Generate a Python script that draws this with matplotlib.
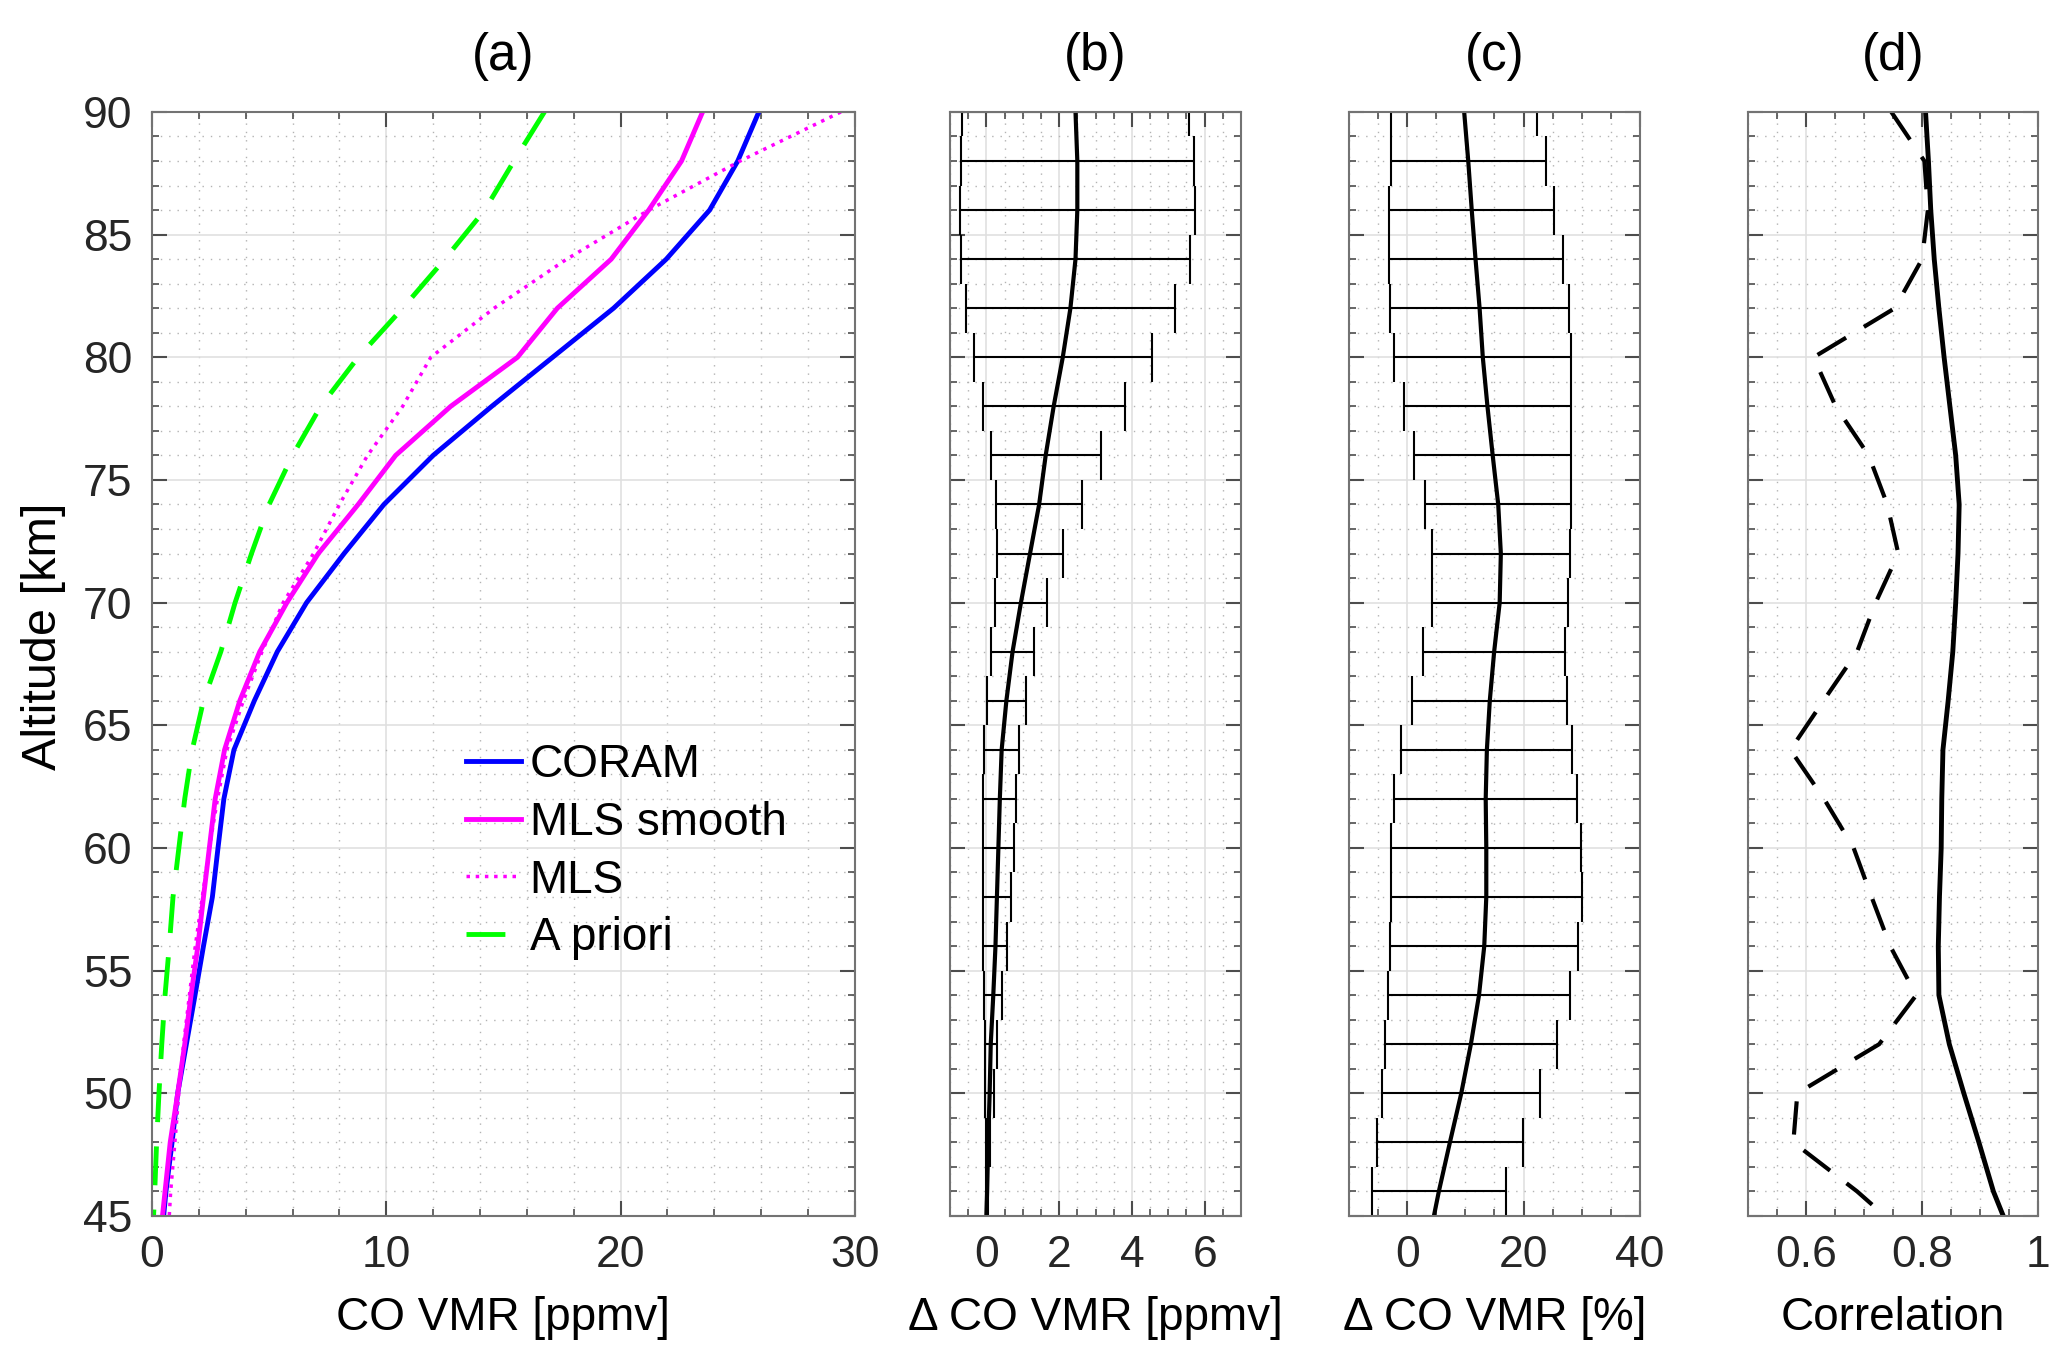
import numpy as np
import matplotlib
matplotlib.use('Agg')
import matplotlib.pyplot as plt
from matplotlib.ticker import MultipleLocator, FuncFormatter

plt.rcParams['font.family'] = ['Liberation Sans', 'DejaVu Sans']

# altitude grid [km]
alt = [90, 88, 86, 84, 82, 80, 78, 76, 74, 72, 70, 68, 66, 64,
       62, 60, 58, 56, 54, 52, 50, 48, 46, 45]

# (a) CO VMR [ppmv]
coram = [25.9, 25.0, 23.8, 21.95, 19.7, 17.1, 14.5, 12.0, 9.9, 8.2, 6.6, 5.35,
         4.37, 3.5, 3.07, 2.82, 2.58, 2.2, 1.84, 1.47, 1.1, 0.86, 0.6, 0.5]
mls_smooth = [23.5, 22.6, 21.2, 19.6, 17.3, 15.6, 12.75, 10.4, 8.8, 7.1, 5.76, 4.6,
              3.75, 3.1, 2.7, 2.45, 2.2, 1.96, 1.67, 1.4, 1.1, 0.78, 0.56, 0.45]
mls = [29.4, 25.1, 21.2, 17.7, 14.6, 11.9, 10.7, 9.2, 8.0, 6.9, 5.6, 4.7,
       3.9, 3.2, 2.8, 2.45, 2.15, 1.85, 1.6, 1.35, 1.15, 0.98, 0.8, 0.74]
apriori = [16.75, 15.45, 14.2, 12.5, 10.7, 8.8, 7.2, 6.0, 5.0, 4.25, 3.55, 2.94,
           2.2, 1.72, 1.4, 1.15, 0.9, 0.74, 0.56, 0.42, 0.3, 0.2, 0.12, 0.07]

# (b) difference [ppmv]: mean and std, every 2 km (90 .. 46)
alt_err = alt[:-1]
diff_ppmv = [2.45, 2.5, 2.5, 2.45, 2.31, 2.1, 1.85, 1.63, 1.45, 1.2, 0.95, 0.72,
             0.55, 0.42, 0.37, 0.33, 0.29, 0.25, 0.19, 0.12, 0.09, 0.05, 0.02]
std_ppmv = [3.11, 3.2, 3.23, 3.15, 2.87, 2.45, 1.95, 1.51, 1.18, 0.9, 0.72, 0.6,
            0.53, 0.48, 0.45, 0.43, 0.39, 0.33, 0.25, 0.17, 0.12, 0.06, 0.03]
diff_ppmv_line = diff_ppmv + [0.0]

# (c) difference [%]
diff_pct = [9.8, 10.5, 11.1, 11.75, 12.45, 13.0, 13.8, 14.7, 15.65, 16.1, 15.9, 14.95,
            14.2, 13.7, 13.5, 13.6, 13.6, 13.25, 12.35, 10.95, 9.3, 7.35, 5.45]
std_pct = [12.5, 13.3, 14.2, 14.95, 15.35, 15.2, 14.4, 13.5, 12.55, 11.9, 11.7, 12.15,
           13.3, 14.7, 15.7, 16.35, 16.4, 16.15, 15.65, 14.75, 13.6, 12.55, 11.45]
diff_pct_line = diff_pct + [4.6]

# (d) correlation
corr_smooth = [0.806, 0.811, 0.815, 0.821, 0.829, 0.838, 0.848, 0.858, 0.864, 0.862,
               0.858, 0.853, 0.845, 0.836, 0.834, 0.833, 0.83, 0.828, 0.829, 0.847,
               0.872, 0.898, 0.923, 0.94]
corr_mls = [0.747, 0.804, 0.81, 0.8, 0.753, 0.613, 0.651, 0.708, 0.74, 0.759,
            0.72, 0.688, 0.63, 0.573, 0.631, 0.682, 0.713, 0.745, 0.79, 0.726,
            0.585, 0.578, 0.688, 0.736]

fig = plt.figure(figsize=(20.67, 13.67), dpi=100)
ax_a = fig.add_axes([0.0735, 0.1105, 0.3401, 0.8076])
ax_b = fig.add_axes([0.4596, 0.1105, 0.1408, 0.8076])
ax_c = fig.add_axes([0.6526, 0.1105, 0.1408, 0.8076])
ax_d = fig.add_axes([0.8457, 0.1105, 0.1403, 0.8076])

tick_fs = 32
lab_fs = 33
title_fs = 37

# panel a
ax_a.plot(coram, alt, color='#0000ff', lw=3.5, label='CORAM')
ax_a.plot(mls_smooth, alt, color='#ff00ff', lw=3.5, label='MLS smooth')
ax_a.plot(mls, alt, color='#ff00ff', lw=2.5, ls=':', label='MLS')
ax_a.plot(apriori, alt, color='#00ff00', lw=3.5, dashes=[8, 5], label='A priori')
ax_a.set_xlim(0, 30)
ax_a.xaxis.set_major_locator(MultipleLocator(10))
ax_a.xaxis.set_minor_locator(MultipleLocator(2))
ax_a.set_xlabel('CO VMR [ppmv]', fontsize=lab_fs, labelpad=14)
ax_a.set_ylabel('Altitude [km]', fontsize=35)
ax_a.yaxis.set_label_coords(-0.122, 0.525)
ax_a.legend(loc='upper left', bbox_to_anchor=(0.42, 0.445), frameon=False,
            fontsize=33, handlelength=1.2, handletextpad=0.2, labelspacing=0.3,
            borderaxespad=0)

# panel b
ax_b.hlines(alt_err, np.subtract(diff_ppmv, std_ppmv), np.add(diff_ppmv, std_ppmv),
            color='k', lw=1.5)
ax_b.vlines(np.subtract(diff_ppmv, std_ppmv), np.subtract(alt_err, 1),
            np.add(alt_err, 1), color='k', lw=1.5)
ax_b.vlines(np.add(diff_ppmv, std_ppmv), np.subtract(alt_err, 1),
            np.add(alt_err, 1), color='k', lw=1.5)
ax_b.plot(diff_ppmv_line, alt, color='k', lw=3)
ax_b.set_xlim(-1, 7)
ax_b.set_xticks([0, 2, 4, 6])
ax_b.xaxis.set_minor_locator(MultipleLocator(0.5))
ax_b.set_xlabel('\u0394 CO VMR [ppmv]', fontsize=lab_fs, labelpad=14)

# panel c
ax_c.hlines(alt_err, np.subtract(diff_pct, std_pct), np.add(diff_pct, std_pct),
            color='k', lw=1.5)
ax_c.vlines(np.subtract(diff_pct, std_pct), np.subtract(alt_err, 1),
            np.add(alt_err, 1), color='k', lw=1.5)
ax_c.vlines(np.add(diff_pct, std_pct), np.subtract(alt_err, 1),
            np.add(alt_err, 1), color='k', lw=1.5)
ax_c.plot(diff_pct_line, alt, color='k', lw=3)
ax_c.set_xlim(-10, 40)
ax_c.set_xticks([0, 20, 40])
ax_c.xaxis.set_minor_locator(MultipleLocator(5))
ax_c.set_xlabel('\u0394 CO VMR [%]', fontsize=lab_fs, labelpad=14)

# panel d
ax_d.plot(corr_smooth, alt, color='k', lw=3.5)
ax_d.plot(corr_mls, alt, color='k', lw=3, dashes=[8, 5])
ax_d.set_xlim(0.5, 1)
ax_d.set_xticks([0.6, 0.8, 1.0])
ax_d.xaxis.set_major_formatter(FuncFormatter(lambda v, p: '%g' % v))
ax_d.xaxis.set_minor_locator(MultipleLocator(0.05))
ax_d.set_xlabel('Correlation', fontsize=lab_fs, labelpad=14)

for ax, title in zip([ax_a, ax_b, ax_c, ax_d], ['(a)', '(b)', '(c)', '(d)']):
    ax.set_ylim(45, 90)
    ax.yaxis.set_major_locator(MultipleLocator(5))
    ax.yaxis.set_minor_locator(MultipleLocator(1))
    ax.set_title(title, fontsize=title_fs, pad=30)
    ax.grid(True, which='major', color='0.88', lw=1.2, ls='-')
    ax.grid(True, which='minor', color='0.7', lw=1.0, ls=(0, (1, 5)))
    ax.set_axisbelow(True)
    ax.tick_params(which='both', direction='in', top=True, right=True,
                   colors='0.3', labelcolor='#262626', labelsize=tick_fs, pad=14)
    ax.tick_params(which='major', length=11, width=1.5)
    ax.tick_params(which='minor', length=5, width=1.2)
    for s in ax.spines.values():
        s.set_color('0.45')
        s.set_linewidth(1.5)
    if ax is not ax_a:
        ax.tick_params(labelleft=False)

fig.savefig('out.png', dpi=100)
